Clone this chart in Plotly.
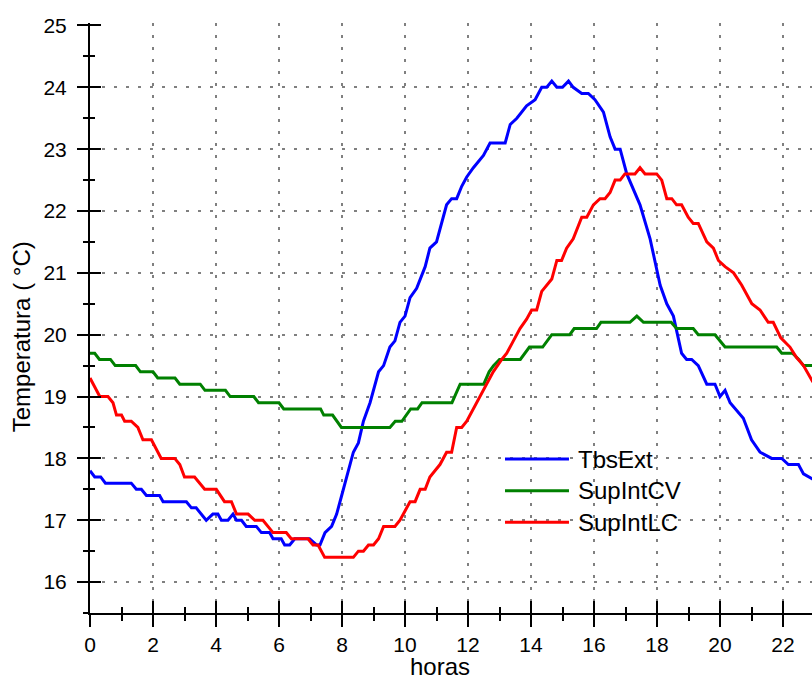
import plotly.graph_objects as go

# ---------------- data ----------------
series_names = ["TbsExt", "SupIntCV", "SupIntLC"]
series_colors = ["#0000FF", "#008000", "#FF0000"]

tbs_hours = [0, 0.15, 0.34, 0.49, 1.31, 1.47, 1.63, 1.79, 2.21, 2.32,
             3.06, 3.22, 3.37, 3.69, 3.9, 4.06, 4.17, 4.38, 4.54, 4.65,
             4.81, 4.96, 5.28, 5.44, 5.7, 5.81, 6.07, 6.18, 6.34, 6.5,
             6.97, 7.19, 7.3, 7.46, 7.67, 7.83, 7.99, 8.2, 8.36, 8.52,
             8.68, 8.89, 9.16, 9.32, 9.52, 9.68, 9.84, 10.0, 10.16, 10.37,
             10.64, 10.79, 11.0, 11.32, 11.48, 11.64, 11.8, 11.96, 12.17, 12.49,
             12.7, 13.18, 13.34, 13.55, 13.86, 14.13, 14.34, 14.5, 14.66, 14.82,
             15.0, 15.19, 15.34, 15.61, 15.82, 16.03, 16.3, 16.51, 16.67, 16.83,
             17.04, 17.46, 17.78, 18.1, 18.31, 18.52, 18.78, 18.94, 19.1, 19.31,
             19.58, 19.84, 20.0, 20.16, 20.32, 20.74, 21.0, 21.27, 21.64, 21.96,
             22.17, 22.49, 22.65, 22.92, 23.0]
tbs_temp = [17.8, 17.7, 17.7, 17.6, 17.6, 17.5, 17.5, 17.4, 17.4, 17.3,
            17.3, 17.2, 17.2, 17.0, 17.1, 17.1, 17.0, 17.0, 17.1, 17.0,
            17.0, 16.9, 16.9, 16.8, 16.8, 16.7, 16.7, 16.6, 16.6, 16.7,
            16.7, 16.6, 16.6, 16.8, 16.9, 17.1, 17.4, 17.8, 18.1, 18.25,
            18.6, 18.9, 19.4, 19.5, 19.8, 19.9, 20.2, 20.3, 20.6, 20.75,
            21.1, 21.4, 21.5, 22.1, 22.2, 22.2, 22.4, 22.55, 22.7, 22.9,
            23.1, 23.1, 23.4, 23.5, 23.7, 23.8, 24.0, 24.0, 24.1, 24.0,
            24.0, 24.1, 24.0, 23.9, 23.9, 23.8, 23.6, 23.2, 23.0, 23.0,
            22.6, 22.1, 21.55, 20.8, 20.5, 20.3, 19.7, 19.6, 19.6, 19.5,
            19.2, 19.2, 19.0, 19.1, 18.9, 18.65, 18.3, 18.1, 18.0, 18.0,
            17.9, 17.9, 17.75, 17.67, 17.65]

cv_hours = [0, 0.15, 0.3, 0.65, 0.8, 1.45, 1.6, 2.0, 2.15, 2.7,
            2.85, 3.5, 3.65, 4.3, 4.45, 5.2, 5.35, 6.0, 6.15, 7.32,
            7.42, 7.7, 7.98, 9.52, 9.69, 9.9, 10.18, 10.4, 10.54, 11.49,
            11.75, 12.5, 12.67, 12.81, 13.0, 13.66, 13.95, 14.37, 14.66, 15.23,
            15.37, 16.08, 16.22, 17.14, 17.36, 17.57, 18.45, 18.62, 19.15, 19.31,
            19.84, 20.16, 21.8, 21.96, 22.3, 22.5, 22.65, 23.0]
cv_temp = [19.7, 19.7, 19.6, 19.6, 19.5, 19.5, 19.4, 19.4, 19.3, 19.3,
           19.2, 19.2, 19.1, 19.1, 19.0, 19.0, 18.9, 18.9, 18.8, 18.8,
           18.7, 18.7, 18.5, 18.5, 18.6, 18.6, 18.8, 18.8, 18.9, 18.9,
           19.2, 19.2, 19.4, 19.5, 19.6, 19.6, 19.8, 19.8, 20.0, 20.0,
           20.1, 20.1, 20.2, 20.2, 20.3, 20.2, 20.2, 20.1, 20.1, 20.0,
           20.0, 19.8, 19.8, 19.7, 19.7, 19.6, 19.5, 19.5]

lc_hours = [0, 0.15, 0.31, 0.57, 0.73, 0.84, 1.0, 1.1, 1.31, 1.52,
            1.68, 1.95, 2.26, 2.69, 2.85, 3.0, 3.32, 3.64, 4.01, 4.27,
            4.49, 4.65, 5.02, 5.23, 5.49, 5.81, 6.23, 6.39, 6.92, 7.08,
            7.24, 7.45, 8.36, 8.52, 8.68, 8.84, 9.0, 9.16, 9.32, 9.68,
            9.84, 10.0, 10.16, 10.32, 10.48, 10.64, 10.79, 10.95, 11.11, 11.32,
            11.48, 11.64, 11.8, 11.96, 12.17, 12.38, 12.59, 12.8, 13.07, 13.23,
            13.44, 13.65, 13.86, 14.02, 14.18, 14.34, 14.66, 14.82, 14.97, 15.13,
            15.34, 15.61, 15.77, 15.98, 16.19, 16.35, 16.51, 16.67, 16.83, 16.98,
            17.3, 17.46, 17.62, 17.99, 18.15, 18.31, 18.47, 18.62, 18.78, 18.99,
            19.15, 19.31, 19.58, 19.79, 19.95, 20.16, 20.43, 20.69, 21.01, 21.27,
            21.53, 21.69, 21.93, 22.22, 22.43, 22.65, 22.92, 23.0]
lc_temp = [19.3, 19.15, 19.0, 19.0, 18.9, 18.7, 18.7, 18.6, 18.6, 18.5,
           18.3, 18.3, 18.0, 18.0, 17.9, 17.7, 17.7, 17.5, 17.5, 17.3,
           17.3, 17.1, 17.1, 17.0, 17.0, 16.8, 16.8, 16.7, 16.7, 16.6,
           16.6, 16.4, 16.4, 16.5, 16.5, 16.6, 16.6, 16.7, 16.9, 16.9,
           17.0, 17.15, 17.3, 17.3, 17.5, 17.5, 17.7, 17.8, 17.9, 18.1,
           18.1, 18.5, 18.5, 18.6, 18.8, 19.0, 19.2, 19.4, 19.6, 19.7,
           19.9, 20.1, 20.25, 20.4, 20.4, 20.7, 20.9, 21.2, 21.2, 21.4,
           21.55, 21.9, 21.9, 22.1, 22.2, 22.2, 22.3, 22.5, 22.5, 22.6,
           22.6, 22.7, 22.6, 22.6, 22.5, 22.2, 22.2, 22.1, 22.1, 21.9,
           21.8, 21.8, 21.5, 21.4, 21.2, 21.1, 21.0, 20.8, 20.5, 20.4,
           20.2, 20.2, 19.95, 19.8, 19.63, 19.5, 19.26, 19.2]

x_major_ticks = list(range(0, 24, 2))
x_minor_ticks = list(range(1, 23, 2))
y_major_ticks = list(range(16, 26))
y_grid_ticks = list(range(16, 25))
y_minor_ticks = [v + 0.5 for v in range(15, 25)]

x_title = "horas"
y_title = "Temperatura ( °C)"

# ---------------- figure ----------------
FONT = "Liberation Sans, Arial, sans-serif"
fig = go.Figure()

# helper (invisible) traces so the overlay axes used for the dotted grid and
# the inward half of the crossed ticks are drawn
fig.add_trace(go.Scatter(x=tbs_hours, y=tbs_temp, xaxis="x", yaxis="y3", mode="none",
                         showlegend=False, hoverinfo="skip"))
fig.add_trace(go.Scatter(x=tbs_hours, y=tbs_temp, xaxis="x2", yaxis="y2", mode="none",
                         showlegend=False, hoverinfo="skip"))

all_x = [tbs_hours, cv_hours, lc_hours]
all_y = [tbs_temp, cv_temp, lc_temp]
for name, color, xs, ys in zip(series_names, series_colors, all_x, all_y):
    fig.add_trace(go.Scatter(x=xs, y=ys, mode="lines", name=name,
                             line=dict(color=color, width=3),
                             showlegend=False, hoverinfo="skip"))

XR = [0, 22.92]
YR = [15.5, 25.04]
tick_common = dict(tickcolor="black", tickwidth=2)
GRID = dict(gridcolor="#808080", gridwidth=2, griddash="3px,9px")

fig.update_layout(
    width=812, height=682,
    margin=dict(l=90, r=0, t=23, b=69),
    plot_bgcolor="white", paper_bgcolor="white",
    font=dict(family=FONT, color="black"),
    xaxis=dict(range=XR, showline=True, linecolor="black", linewidth=2,
               tickmode="array", tickvals=x_major_ticks, ticks="outside", ticklen=12,
               **tick_common, tickfont=dict(size=21, family=FONT, color="black"),
               ticklabelstandoff=0,
               showgrid=True, **GRID,
               zeroline=False,
               minor=dict(tickmode="array", tickvals=x_minor_ticks, ticks="outside",
                          ticklen=6, tickwidth=2, tickcolor="black", showgrid=False)),
    xaxis2=dict(range=XR, overlaying="x", anchor="y2", side="bottom",
                showline=False, showgrid=False, zeroline=False, showticklabels=False,
                tickmode="array", tickvals=x_major_ticks, ticks="inside", ticklen=12,
                **tick_common,
                minor=dict(tickmode="array", tickvals=x_minor_ticks, ticks="inside",
                           ticklen=6, tickwidth=2, tickcolor="black", showgrid=False)),
    yaxis=dict(range=YR, showline=True, linecolor="black", linewidth=2,
               tickmode="array", tickvals=y_major_ticks, ticks="outside", ticklen=11,
               **tick_common, tickfont=dict(size=21, family=FONT, color="black"),
               ticklabelstandoff=6,
               showgrid=False, zeroline=False,
               minor=dict(tickmode="array", tickvals=y_minor_ticks, ticks="outside",
                          ticklen=5, tickwidth=2, tickcolor="black", showgrid=False)),
    yaxis2=dict(range=YR, overlaying="y", anchor="x2", side="left",
                showline=False, showgrid=False, zeroline=False, showticklabels=False,
                tickmode="array", tickvals=y_major_ticks, ticks="inside", ticklen=11,
                **tick_common,
                minor=dict(tickmode="array", tickvals=y_minor_ticks, ticks="inside",
                           ticklen=5, tickwidth=2, tickcolor="black", showgrid=False)),
    yaxis3=dict(range=YR, overlaying="y", anchor="x", side="left",
                showline=False, zeroline=False, showticklabels=False, ticks="",
                tickmode="array", tickvals=y_grid_ticks,
                showgrid=True, **GRID),
)

# axis titles
fig.add_annotation(text=x_title, xref="paper", yref="paper", x=0.4848, y=-0.0915,
                   xanchor="center", yanchor="middle", showarrow=False,
                   font=dict(size=24, family=FONT, color="black"))
fig.add_annotation(text=y_title, xref="paper", yref="paper", x=-0.0956, y=0.469,
                   xanchor="center", yanchor="middle", textangle=-90, showarrow=False,
                   font=dict(size=24, family=FONT, color="black"))

# legend (box-less, as in the reference)
leg_rows = [0.261, 0.2073, 0.1537]
for name, color, ly in zip(series_names, series_colors, leg_rows):
    fig.add_shape(type="line", xref="paper", yref="paper", x0=0.5748, x1=0.6634,
                  y0=ly, y1=ly, line=dict(color=color, width=3))
    fig.add_annotation(text=name, xref="paper", yref="paper", x=0.6731, y=ly,
                       xanchor="left", yanchor="middle", showarrow=False,
                       font=dict(size=24, family=FONT, color="black"))

fig.write_html("out.html")
